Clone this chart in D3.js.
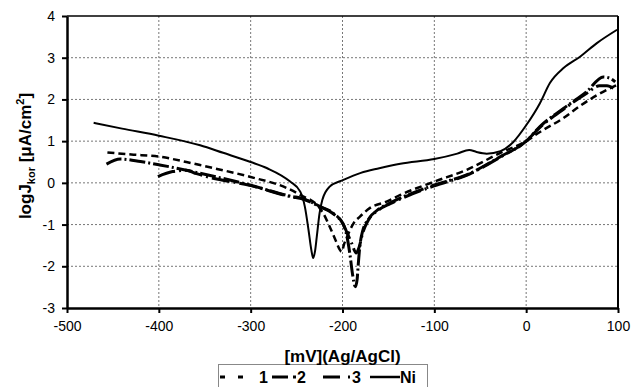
<!DOCTYPE html>
<html>
<head>
<meta charset="utf-8">
<script src="https://cdn.jsdelivr.net/npm/d3@7"></script>
<style>
  body { margin: 0; background: #fff; }
  text { font-family: "Liberation Sans", Arial, sans-serif; }
</style>
</head>
<body>
<div id="chart"></div>
<script>
// tick values
const xTicks = [-500, -400, -300, -200, -100, 0, 100];
const yTicks = [-3, -2, -1, 0, 1, 2, 3, 4];

// series 1 (short dashes): [mV, logJ]
const s1 = [[-456, 0.73], [-430, 0.68], [-400, 0.63], [-370, 0.5], [-350, 0.4], [-300, 0.14],
  [-260, -0.13], [-246, -0.29], [-225, -0.6], [-221, -0.73], [-215, -1.0], [-208, -1.35],
  [-203, -1.6], [-201, -1.65], [-198, -1.45], [-195, -1.29], [-188, -0.97], [-181, -0.81],
  [-170, -0.6], [-152, -0.45], [-137, -0.29], [-100, 0.03], [-65, 0.31], [-28, 0.72],
  [0, 1.0], [15, 1.22], [41, 1.56], [59, 1.85], [77, 2.1], [99, 2.35]];

// series 2 (dash-dot, deep dip)
const s2 = [[-457, 0.45], [-442, 0.57], [-420, 0.51], [-399, 0.43], [-355, 0.23], [-301, -0.05],
  [-254, -0.33], [-246, -0.36], [-224, -0.57], [-210, -0.73], [-199, -1.0], [-195, -1.3],
  [-192, -1.7], [-189, -2.2], [-186, -2.49], [-184, -2.3], [-183, -2.0], [-181, -1.5],
  [-178, -1.15], [-172, -0.88], [-160, -0.62], [-148, -0.48], [-100, -0.05], [-65, 0.19],
  [-28, 0.63], [0, 1.0], [15, 1.35], [41, 1.79], [66, 2.19], [84, 2.54], [92, 2.5], [97, 2.42]];

// series 3 (dash-dot)
const s3 = [[-401, 0.15], [-385, 0.27], [-370, 0.3], [-359, 0.22], [-348, 0.15], [-301, -0.06],
  [-254, -0.34], [-246, -0.37], [-224, -0.58], [-210, -0.74], [-199, -1.0], [-195, -1.2],
  [-190, -1.45], [-185, -1.68], [-182, -1.55], [-178, -1.2], [-172, -0.9], [-160, -0.64],
  [-148, -0.5], [-100, -0.07], [-65, 0.18], [-28, 0.62], [0, 1.0], [15, 1.33], [41, 1.77],
  [66, 2.15], [80, 2.33], [88, 2.33], [95, 2.27]];

// Ni (solid)
const ni = [[-471, 1.44], [-440, 1.3], [-400, 1.13], [-355, 0.9], [-330, 0.72], [-300, 0.5],
  [-282, 0.35], [-257, 0.03], [-246, -0.21], [-241, -0.57], [-237, -1.13], [-234, -1.6],
  [-232, -1.8], [-230, -1.65], [-228, -1.29], [-225, -0.73], [-222, -0.41], [-214, -0.09],
  [-199, 0.07], [-180, 0.24], [-160, 0.35], [-137, 0.46], [-100, 0.57], [-75, 0.7],
  [-62, 0.79], [-54, 0.74], [-43, 0.7], [-28, 0.76], [-14, 0.98], [0, 1.38], [15, 1.91],
  [26, 2.4], [41, 2.76], [59, 3.03], [77, 3.35], [99, 3.67]];

const seriesNames = ['1', '2', '3', 'Ni'];

const W = 631, H = 387;
const margin = { top: 16, right: 13, bottom: 79, left: 67 };
const width = W - margin.left - margin.right;
const height = H - margin.top - margin.bottom;

const svg = d3.select('#chart').append('svg')
  .attr('width', W).attr('height', H);

const g = svg.append('g')
  .attr('transform', `translate(${margin.left},${margin.top})`);

const x = d3.scaleLinear().domain([-500, 100]).range([0, width]);
const y = d3.scaleLinear().domain([-3, 4]).range([height, 0]);

// grid
g.append('g').selectAll('line')
  .data(xTicks.slice(1, -1))
  .enter().append('line')
  .attr('x1', d => x(d)).attr('x2', d => x(d))
  .attr('y1', 0).attr('y2', height)
  .attr('stroke', '#777').attr('stroke-dasharray', '2,2');
g.append('g').selectAll('line')
  .data(yTicks.slice(1, -1))
  .enter().append('line')
  .attr('x1', 0).attr('x2', width)
  .attr('y1', d => y(d)).attr('y2', d => y(d))
  .attr('stroke', '#777').attr('stroke-dasharray', '2,2');

// frame
g.append('line').attr('x1', 0).attr('x2', width).attr('y1', 0).attr('y2', 0)
  .attr('stroke', '#000').attr('stroke-width', 1.5);
g.append('line').attr('x1', width).attr('x2', width).attr('y1', 0).attr('y2', height)
  .attr('stroke', '#000').attr('stroke-width', 2);

// axes
const fmt = d => String(d);
const xAxis = g.append('g')
  .attr('transform', `translate(0,${height})`)
  .call(d3.axisBottom(x).tickValues(xTicks).tickFormat(fmt).tickSize(5).tickPadding(8).tickSizeOuter(0));
const yAxis = g.append('g')
  .call(d3.axisLeft(y).tickValues(yTicks).tickFormat(fmt).tickSize(5).tickPadding(7).tickSizeOuter(0));
[xAxis, yAxis].forEach(a => {
  a.select('.domain').attr('stroke', '#000').attr('stroke-width', 2.5);
  a.selectAll('.tick line').attr('stroke', '#000').attr('stroke-width', 2);
  a.selectAll('.tick text').attr('fill', '#000')
    .style('font-size', '14px').style('font-family', '"Liberation Sans", Arial, sans-serif');
});

// lines
const line = d3.line()
  .x(d => x(d[0]))
  .y(d => y(d[1]))
  .curve(d3.curveMonotoneX);

const styles = [
  { data: s1, width: 2.5, dash: '7,4' },
  { data: s2, width: 3, dash: '16,3,2,3' },
  { data: s3, width: 3, dash: '18,4,2,4' },
  { data: ni, width: 2, dash: null }
];

g.selectAll('.series')
  .data(styles)
  .enter().append('path')
  .attr('class', 'series')
  .attr('d', d => line(d.data))
  .attr('fill', 'none')
  .attr('stroke', '#000')
  .attr('stroke-width', d => d.width)
  .attr('stroke-dasharray', d => d.dash);

// legend
const lg = svg.append('g');
lg.append('rect')
  .attr('x', 218.5).attr('y', 364.5).attr('width', 209).attr('height', 30)
  .attr('fill', '#fff').attr('stroke', '#888');

const legendItems = [
  { x1: 220, x2: 246, dash: '5,13', w: 3, label: '1', tx: 259 },
  { x1: 272, x2: 297, dash: '16,5,3,20', w: 3, label: '2', tx: 297 },
  { x1: 323, x2: 351, dash: '17,8,2,20', w: 3, label: '3', tx: 352 },
  { x1: 370, x2: 400, dash: null, w: 2.5, label: 'Ni', tx: 400 }
];
legendItems.forEach((it, i) => {
  lg.append('line')
    .attr('x1', it.x1).attr('x2', it.x2).attr('y1', 377).attr('y2', 377)
    .attr('stroke', '#000').attr('stroke-width', it.w)
    .attr('stroke-dasharray', it.dash);
  lg.append('text')
    .attr('x', it.tx).attr('y', 383)
    .style('font-size', '16px').style('font-weight', 'bold')
    .text(seriesNames[i]);
});

// axis titles
svg.append('text')
  .attr('x', margin.left + width / 2).attr('y', 362)
  .attr('text-anchor', 'middle')
  .style('font-size', '17px').style('font-weight', 'bold')
  .text('[mV](Ag/AgCl)');

const yt = svg.append('text')
  .attr('transform', 'translate(31,156) rotate(-90)')
  .attr('text-anchor', 'middle')
  .style('font-size', '17px').style('font-weight', 'bold');
yt.append('tspan').text('logJ');
yt.append('tspan').attr('dy', 4).style('font-size', '11px').text('kor');
yt.append('tspan').attr('dy', -4).text(' [μA/cm');
yt.append('tspan').attr('dy', -7).style('font-size', '11px').text('2');
yt.append('tspan').attr('dy', 7).text(']');
</script>
</body>
</html>
